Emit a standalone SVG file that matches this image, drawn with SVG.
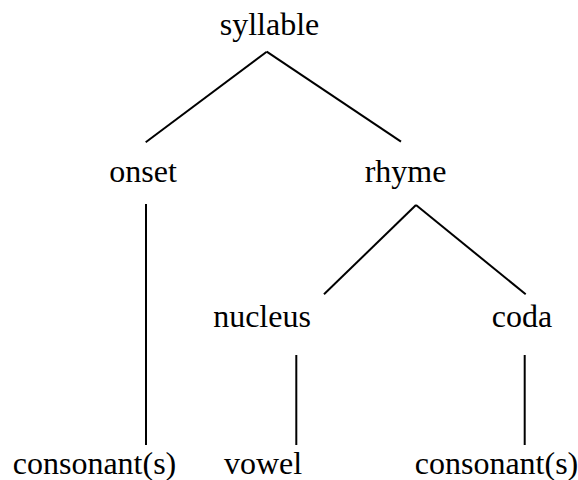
<svg xmlns="http://www.w3.org/2000/svg" width="578" height="480" viewBox="0 0 578 480">
<style>
text{font-family:"Liberation Serif","Times New Roman",serif;font-size:32px;fill:#000;text-anchor:middle}
.e line{stroke:#000;stroke-width:2;fill:none}
</style>
<rect width="578" height="480" fill="#fff"/>
<g class="e" id="connectors">
<line x1="266.7" y1="51.7" x2="145.7" y2="142.3"/>
<line x1="266.7" y1="51.7" x2="401" y2="141.7"/>
<line x1="146" y1="204" x2="146" y2="445"/>
<line x1="416" y1="205" x2="324" y2="294.3"/>
<line x1="416" y1="205" x2="525.7" y2="294.3"/>
<line x1="296.3" y1="355" x2="296.3" y2="445"/>
<line x1="524.7" y1="355" x2="524.7" y2="445"/>
</g>
<g id="syllable"><text x="269.5" y="35">syllable</text></g>
<g id="onset"><text x="143" y="182">onset</text></g>
<g id="rhyme"><text x="405.5" y="182">rhyme</text></g>
<g id="nucleus"><text x="262" y="327.3">nucleus</text></g>
<g id="coda"><text x="522" y="327.3">coda</text></g>
<g id="consonants1"><text x="94.5" y="474">consonant(s)</text></g>
<g id="vowel"><text x="263" y="474">vowel</text></g>
<g id="consonants2"><text x="496.5" y="474">consonant(s)</text></g>
</svg>
